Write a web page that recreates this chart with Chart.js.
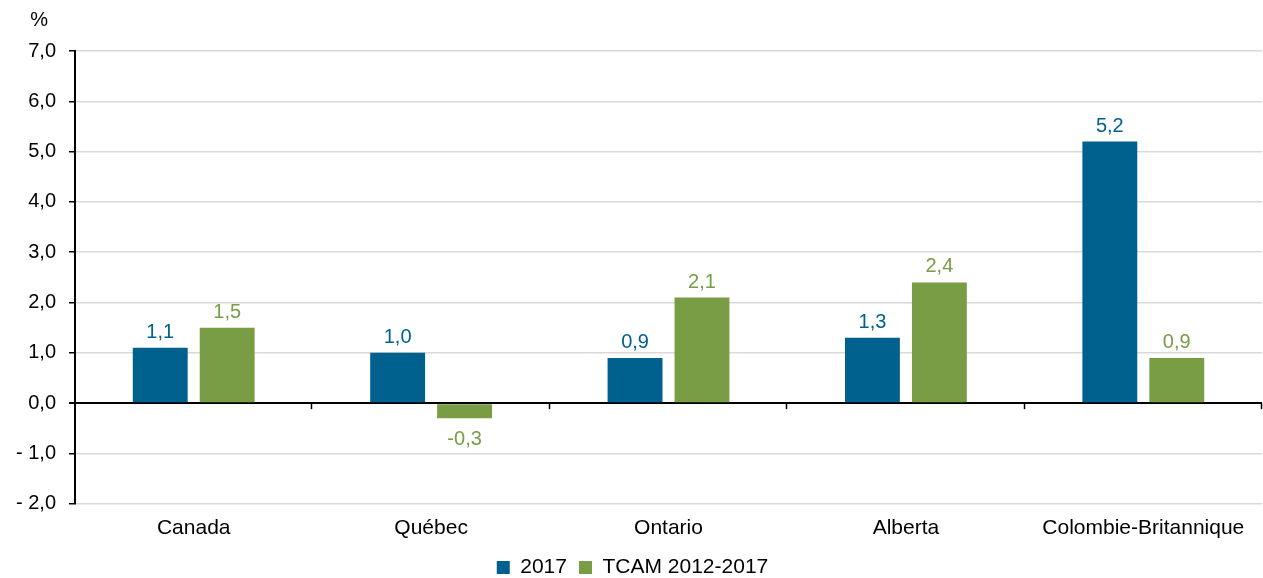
<!DOCTYPE html>
<html>
<head>
<meta charset="utf-8">
<script src="https://cdn.jsdelivr.net/npm/chart.js@4/dist/chart.umd.min.js"></script>
<style>
html,body{margin:0;padding:0;background:#fff;}
#wrap{width:1263px;height:578px;position:relative;}
</style>
</head>
<body>
<div id="wrap"><canvas id="c" width="1263" height="578"></canvas></div>
<script>
const categories = ['Canada', 'Québec', 'Ontario', 'Alberta', 'Colombie-Britannique'];
const values2017 = [1.1, 1.0, 0.9, 1.3, 5.2];
const valuesTCAM = [1.5, -0.3, 2.1, 2.4, 0.9];
const seriesNames = ['2017', 'TCAM 2012-2017'];
const yTicks = [-2, -1, 0, 1, 2, 3, 4, 5, 6, 7];
const yUnit = '%';

const BLUE = '#00618F';
const GREEN = '#789D45';
const FONT = "'Liberation Sans', Arial, sans-serif";
const FS = 20;
const FS_TXT = 21;

function fmt(v) {
  const s = Math.abs(v).toFixed(1).replace('.', ',');
  return v < 0 ? '- ' + s : s;
}
function fmtLabel(v) {
  const s = Math.abs(v).toFixed(1).replace('.', ',');
  return v < 0 ? '-' + s : s;
}

const extras = {
  id: 'extras',
  afterLayout(chart) {
    if (chart.legend) {
      chart.legend.top -= 8;
      chart.legend.bottom -= 8;
    }
  },
  afterDatasetsDraw(chart) {
    const ctx = chart.ctx;
    const xs = chart.scales.x, ys = chart.scales.y;
    const zeroY = ys.getPixelForValue(0);
    ctx.save();
    ctx.strokeStyle = '#000';
    ctx.lineWidth = 1.5;
    const n = categories.length;
    const step = (xs.right - xs.left) / n;
    for (let i = 1; i <= n; i++) {
      const x = Math.round(xs.left + i * step) - 0.5;
      ctx.beginPath();
      ctx.moveTo(x, zeroY);
      ctx.lineTo(x, zeroY + 6);
      ctx.stroke();
    }
    ctx.font = FS + 'px ' + FONT;
    ctx.textAlign = 'center';
    ctx.textBaseline = 'alphabetic';
    chart.data.datasets.forEach((ds, di) => {
      const meta = chart.getDatasetMeta(di);
      meta.data.forEach((bar, i) => {
        const v = ds.data[i];
        ctx.fillStyle = ds.backgroundColor;
        if (v >= 0) {
          ctx.fillText(fmtLabel(v), bar.x, bar.y - 10);
        } else {
          ctx.fillText(fmtLabel(v), bar.x, bar.y + 27);
        }
      });
    });
    ctx.fillStyle = '#000';
    ctx.textAlign = 'center';
    ctx.textBaseline = 'middle';
    ctx.fillText(yUnit, ys.right - 36, chart.chartArea.top - 31);
    ctx.restore();
  }
};

new Chart(document.getElementById('c'), {
  type: 'bar',
  data: {
    labels: categories,
    datasets: [
      { label: seriesNames[0], data: values2017, backgroundColor: BLUE, borderWidth: 0 },
      { label: seriesNames[1], data: valuesTCAM, backgroundColor: GREEN, borderWidth: 0 }
    ]
  },
  options: {
    responsive: false,
    animation: false,
    devicePixelRatio: 1,
    categoryPercentage: 0.564,
    barPercentage: 0.82,
    layout: { padding: { top: 51, right: 1, left: 3, bottom: -18 } },
    plugins: {
      legend: {
        position: 'bottom',
        labels: {
          boxWidth: 13, boxHeight: 13, padding: 12,
          color: '#000',
          font: { family: FONT, size: FS_TXT }
        }
      },
      tooltip: { enabled: false }
    },
    scales: {
      x: {
        grid: { display: false, drawTicks: false },
        border: { display: false },
        ticks: { color: '#000', font: { family: FONT, size: FS_TXT }, padding: 12 }
      },
      y: {
        min: -2, max: 7,
        afterBuildTicks(scale) { scale.ticks = yTicks.map(v => ({ value: v })); },
        grid: {
          color: c => (c.tick && c.tick.value === 0) ? '#000' : '#D9D9D9',
          lineWidth: c => (c.tick && c.tick.value === 0) ? 2 : 1.5,
          tickColor: '#000',
          tickLength: 6,
          drawTicks: true
        },
        border: { color: '#000', width: 2 },
        ticks: {
          color: '#000',
          font: { family: FONT, size: FS },
          padding: 13,
          callback: v => fmt(v)
        }
      }
    }
  },
  plugins: [extras]
});
</script>
</body>
</html>
